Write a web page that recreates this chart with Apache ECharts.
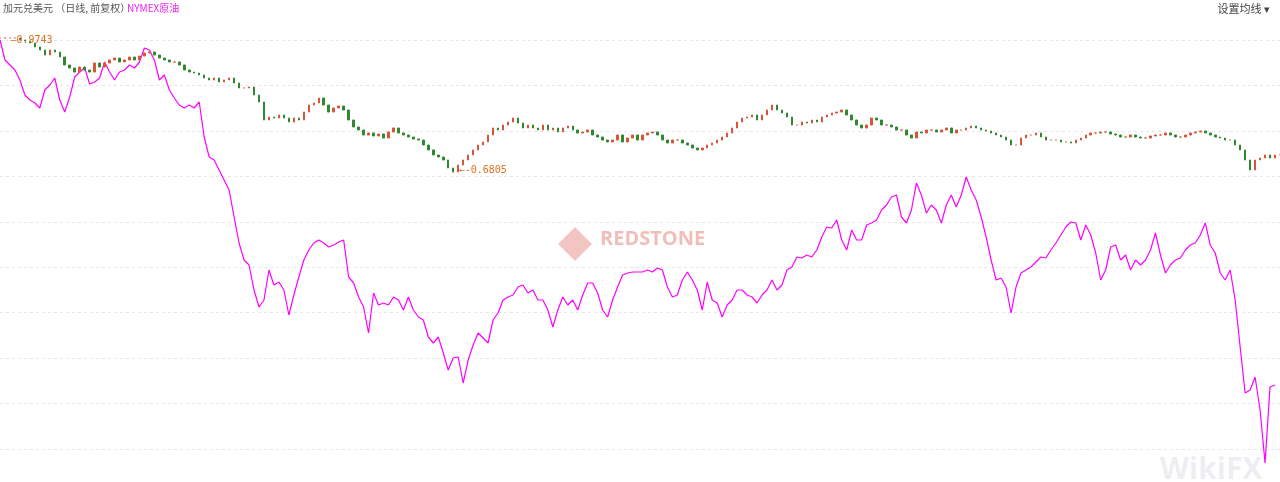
<!DOCTYPE html>
<html><head><meta charset="utf-8">
<script src="https://cdn.jsdelivr.net/npm/echarts@6/dist/echarts.min.js"></script>
<style>html,body{margin:0;padding:0;background:#fff}#c{width:1280px;height:482px}</style>
</head><body><div id="c"></div>
<script>
// CAD/USD daily closes (sampled), left to right
const cadClose = [0.9743,0.9743,0.9743,0.9743,0.9699,0.9677,0.9633,0.9546,0.9480,0.9370,0.9480,0.9436,0.9326,0.9151,0.9085,0.8997,0.9107,0.9041,0.8997,0.9195,0.9107,0.9195,0.9261,0.9304,0.9217,0.9261,0.9326,0.9261,0.9348,0.9414,0.9436,0.9370,0.9304,0.9261,0.9217,0.9217,0.9151,0.9041,0.8997,0.8975,0.8932,0.8866,0.8822,0.8866,0.8778,0.8822,0.8866,0.8756,0.8647,0.8647,0.8669,0.8493,0.8340,0.7945,0.8011,0.7989,0.8055,0.7989,0.7901,0.7989,0.7945,0.8120,0.8274,0.8318,0.8427,0.8274,0.8120,0.8208,0.8252,0.8164,0.7945,0.7792,0.7726,0.7616,0.7660,0.7594,0.7638,0.7550,0.7682,0.7770,0.7660,0.7616,0.7572,0.7528,0.7506,0.7397,0.7288,0.7178,0.7134,0.7068,0.6893,0.6805,0.6958,0.7068,0.7178,0.7288,0.7397,0.7463,0.7616,0.7770,0.7726,0.7835,0.7901,0.7989,0.7879,0.7770,0.7835,0.7770,0.7726,0.7835,0.7726,0.7770,0.7682,0.7770,0.7813,0.7726,0.7660,0.7682,0.7726,0.7616,0.7572,0.7506,0.7463,0.7506,0.7616,0.7463,0.7550,0.7616,0.7506,0.7616,0.7660,0.7682,0.7616,0.7506,0.7441,0.7506,0.7506,0.7441,0.7397,0.7331,0.7288,0.7331,0.7397,0.7441,0.7506,0.7572,0.7660,0.7770,0.7901,0.7989,0.8011,0.8055,0.7945,0.8055,0.8164,0.8274,0.8164,0.8098,0.8011,0.7835,0.7835,0.7901,0.7879,0.7945,0.7901,0.8011,0.8055,0.8098,0.8120,0.8164,0.8055,0.7945,0.7835,0.7770,0.7835,0.7989,0.7945,0.7835,0.7835,0.7792,0.7726,0.7726,0.7616,0.7550,0.7682,0.7660,0.7726,0.7726,0.7682,0.7726,0.7770,0.7660,0.7726,0.7726,0.7770,0.7813,0.7770,0.7726,0.7704,0.7660,0.7616,0.7572,0.7506,0.7397,0.7397,0.7550,0.7616,0.7616,0.7660,0.7572,0.7506,0.7506,0.7506,0.7463,0.7463,0.7441,0.7506,0.7550,0.7616,0.7660,0.7660,0.7682,0.7682,0.7638,0.7616,0.7572,0.7572,0.7616,0.7572,0.7550,0.7550,0.7594,0.7616,0.7616,0.7660,0.7616,0.7572,0.7572,0.7616,0.7660,0.7682,0.7704,0.7660,0.7616,0.7572,0.7550,0.7506,0.7506,0.7397,0.7288,0.7068,0.6849,0.7068,0.7112,0.7178,0.7112,0.7178,0.7178];
// NYMEX crude oil (sampled), same dates
const oil = [110,105,103.75,102.5,100,96.25,95,94.25,93,97.5,98.75,100.5,95,92,95.75,100.75,102,103,99,99.5,100.5,104.5,102,100,102,102.5,103.75,103,104.5,108,107.5,105,100,101.25,97.5,95.5,93.75,93,93.75,93,94.5,85.75,80.75,80,77.5,75,72.5,65.75,59.25,55,53.75,47.5,43.25,45,52.5,48.75,49.5,47.5,41.25,46.25,50.75,55,57.5,59.25,60,59.25,58.25,58.75,59.5,60,50.75,49.25,45.75,43.25,36.75,46.75,43.75,44.25,43.75,45.75,45,42.5,45.75,42.5,40.75,40,35.75,34.25,35.75,31.75,27.5,30.5,30.75,24.25,30,33.75,36.75,35.5,34.25,40,41.75,45,45.75,46.25,48.25,48.75,46.75,47.5,45,45,42.5,38.25,42.5,45.75,43.75,45,42.5,46.25,49.25,49.25,46.75,42.5,40.75,45,48.25,51.25,51.75,52,52,52,52.5,52,53,52.5,48.25,45.75,46.25,50,52,50,47.5,42.5,49.5,45,44.25,40.75,43.75,45,47.5,47.5,46.25,45.75,44.25,46.25,47.5,50,47.5,48.75,52.5,53.25,55.75,55.5,56.25,55.75,57.5,60.75,63.25,63,65,60,57.5,62.5,60,60,63.75,64.25,65,67.5,68.75,70.75,71.25,65.75,64.25,67.5,74.25,71.25,66.75,68.75,67.5,64.25,68.75,71.25,68.25,71.25,75.75,72.5,70,65.75,60.75,55,50,50.5,48.25,41.75,48.25,51.75,52.5,53.25,54.5,55.75,55.5,57.5,59.25,61.25,63.25,64.5,64.25,60,63.75,61.25,56.75,50,52.5,58.25,58.75,55,56.25,52.5,55,53.75,55,57.5,61.75,56.25,51.75,53.75,55,55.5,57.5,58.75,59.25,61.25,64.25,58.75,56.75,51.75,50,52.5,45,33.25,21.75,22.5,25.75,17.5,4.25,23.25,23.75];
const cats = cadClose.map((_, i) => String(i));

const candles = cadClose.map((c, i) => {
  const o = i === 0 ? c : cadClose[i - 1];
  return [o, c, Math.min(o, c), Math.max(o, c)];
});
const minIdx = cadClose.indexOf(Math.min(...cadClose));

const chart = echarts.init(document.getElementById('c'));
chart.setOption({
  animation: false,
  grid: [
    {left: 0, right: 0, top: 0, bottom: 0},
    {left: 0, right: 0, top: 40, bottom: 33}
  ],
  xAxis: [
    {type: 'category', data: cats, boundaryGap: false, show: false, gridIndex: 0},
    {type: 'value', min: 0, max: 1, show: false, gridIndex: 1}
  ],
  yAxis: [
    {type: 'value', min: 0.0008, max: 1.0576, show: false, gridIndex: 0},
    {type: 'value', min: -0.5, max: 120, show: false, gridIndex: 0},
    {type: 'value', min: 0, max: 9, interval: 1, gridIndex: 1,
     axisLine: {show: false}, axisTick: {show: false}, axisLabel: {show: false},
     splitLine: {show: true, lineStyle: {color: '#e6e6e6', type: [3, 3]}}}
  ],
  series: [
    {type: 'line', xAxisIndex: 1, yAxisIndex: 2, data: [], silent: true},
    {type: 'line', data: oil, yAxisIndex: 1, symbol: 'none', z: 2,
     lineStyle: {color: '#ff00ff', width: 1.2}},
    {type: 'candlestick', data: candles, yAxisIndex: 0, z: 3, barWidth: 2,
     itemStyle: {color: '#d8553a', color0: '#2f8a2f', borderColor: '#d8553a', borderColor0: '#2f8a2f', borderWidth: 1},
     markPoint: {symbol: 'circle', symbolSize: 1, silent: true,
       itemStyle: {color: '#e07020'},
       label: {show: true, position: 'right', color: '#e07020', fontSize: 10, fontFamily: 'DejaVu Sans Mono'},
       data: [
         {coord: [1, 0.9743], value: 0.9743, label: {formatter: '—0.9743', offset: [0, 2]}},
         {coord: [minIdx, 0.6805], value: 0.6805, label: {formatter: '←-0.6805', offset: [0, -2]}}
       ]}}
  ],
  graphic: [
    {type: 'text', left: 3, top: 3, style: {text: '加元兑美元 （日线, 前复权）', fill: '#555', font: '10px "Noto Sans CJK SC"'}},
    {type: 'text', left: 127, top: 3, style: {text: 'NYMEX原油', fill: '#ee22ee', font: '10px "Noto Sans CJK SC"'}},
    {type: 'text', right: 10, top: 3, style: {text: '设置均线 ▾', fill: '#444', font: '11px "Noto Sans CJK SC"'}},
    {type: 'rect', left: 558, top: 227, shape: {width: 24, height: 24}, rotation: Math.PI / 4, originX: 570, originY: 239,
     style: {fill: 'rgba(220,90,80,0.35)'}},
    {type: 'text', left: 600, top: 229, style: {text: 'REDSTONE', fill: 'rgba(220,90,80,0.4)', font: 'bold 20px "Open Sans"'}},
    {type: 'text', left: 1160, top: 455, style: {text: 'WikiFX', fill: 'rgba(160,170,190,0.2)', font: 'bold 30px "Open Sans"'}}
  ]
});
</script></body></html>
